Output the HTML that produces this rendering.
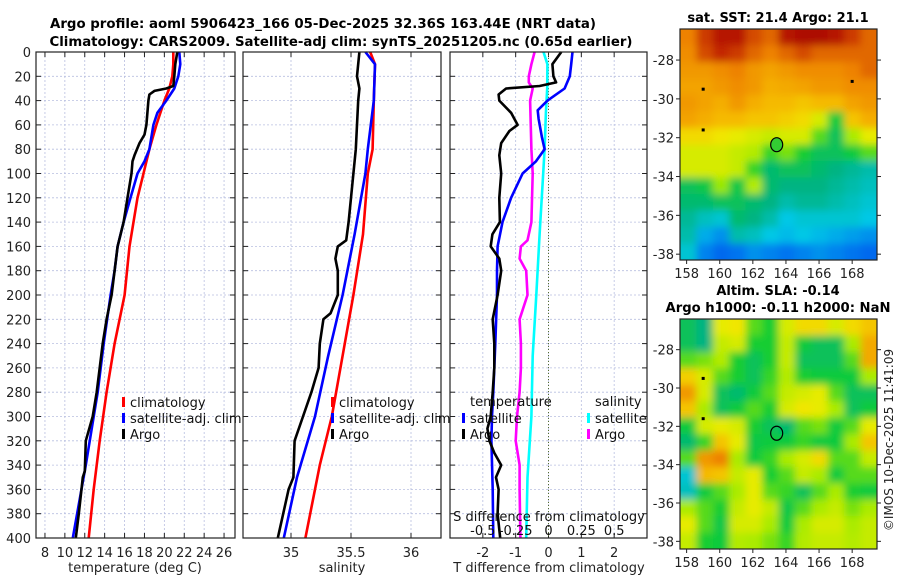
<!DOCTYPE html>
<html><head><meta charset="utf-8"><style>
html,body{margin:0;padding:0;background:#fff;}
svg{display:block;font-family:"DejaVu Sans","Liberation Sans",sans-serif;}
</style></head><body>
<svg id="fig" width="900" height="580" viewBox="0 0 900 580" xmlns="http://www.w3.org/2000/svg">
<defs>
<filter id="blur" x="-5%" y="-5%" width="110%" height="110%"><feGaussianBlur stdDeviation="4"/></filter>
<clipPath id="clipTop"><rect x="680" y="29" width="197" height="231"/></clipPath>
<clipPath id="clipBot"><rect x="680" y="319" width="197" height="230"/></clipPath>
</defs>
<text x="323" y="28" font-size="13" font-weight="bold" text-anchor="middle" textLength="546" lengthAdjust="spacingAndGlyphs">Argo profile: aoml 5906423_166 05-Dec-2025 32.36S 163.44E (NRT data)</text>
<text x="341" y="46" font-size="13" font-weight="bold" text-anchor="middle" textLength="583" lengthAdjust="spacingAndGlyphs">Climatology: CARS2009. Satellite-adj clim: synTS_20251205.nc (0.65d earlier)</text>
<g id="plots"></g>
<text x="778" y="22" font-size="13" font-weight="bold" text-anchor="middle">sat. SST: 21.4 Argo: 21.1</text>
<text x="778" y="295" font-size="13" font-weight="bold" text-anchor="middle">Altim. SLA: -0.14</text>
<text x="778" y="312" font-size="13" font-weight="bold" text-anchor="middle" textLength="225" lengthAdjust="spacingAndGlyphs">Argo h1000: -0.11 h2000: NaN</text>
<text transform="translate(893,440) rotate(-90)" font-size="12" text-anchor="middle" fill="#222">©IMOS 10-Dec-2025 11:41:09</text>
</svg>
<script>
// ---- profile data (depth in m) ----
const tClimDepth=[0,10,20,30,40,60,80,100,120,140,160,200,240,280,320,360,400];
const tClimVal=[20.9,20.9,20.8,20.5,20.0,19.2,18.5,17.9,17.3,16.9,16.5,16.0,15.0,14.2,13.5,12.9,12.4];
const tSatDepth=[0,10,20,30,40,50,60,80,90,100,120,140,160,180,200,240,280,300,340,400];
const tSatVal=[21.5,21.6,21.4,21.0,20.2,19.3,18.9,18.5,18.0,17.3,16.6,15.9,15.3,15.0,14.6,13.9,13.3,12.9,12.1,10.8];
const tArgoDepth=[0,10,20,28,30,32,35,40,60,68,75,85,90,100,120,140,160,180,200,220,240,260,280,300,320,345,350,380,400];
const tArgoVal=[21.3,21.1,21.0,20.9,20.2,19.0,18.5,18.4,18.2,18.0,17.5,17.0,16.8,16.7,16.3,15.9,15.3,15.0,14.7,14.2,13.8,13.5,13.2,12.8,12.1,12.0,11.8,11.4,11.1];
const sClimDepth=[0,10,40,80,100,150,200,250,300,340,400];
const sClimVal=[35.66,35.70,35.69,35.68,35.64,35.60,35.52,35.43,35.34,35.24,35.12];
const sSatDepth=[0,10,40,80,100,150,200,250,300,350,400];
const sSatVal=[35.62,35.70,35.69,35.64,35.62,35.53,35.43,35.31,35.20,35.05,34.94];
const sArgoDepth=[0,20,30,40,80,100,140,155,160,170,180,200,215,220,240,260,280,300,320,350,360,400];
const sArgoVal=[35.57,35.55,35.57,35.56,35.54,35.52,35.48,35.46,35.39,35.37,35.39,35.39,35.33,35.27,35.24,35.23,35.17,35.10,35.03,35.02,34.98,34.89];
const dTArgoDepth=[0,10,20,25,28,30,35,40,50,60,65,75,85,100,120,140,150,160,170,180,200,220,240,260,280,300,310,320,330,340,350,360,380,400];
const dTArgoVal=[0.39,0.12,0.15,0.23,-0.27,-1.29,-1.52,-1.5,-1.14,-0.94,-1.19,-1.44,-1.5,-1.44,-1.5,-1.48,-1.71,-1.76,-1.5,-1.44,-1.55,-1.7,-1.65,-1.65,-1.7,-1.76,-1.86,-1.8,-1.65,-1.44,-1.6,-1.52,-1.55,-1.47];
const dTSatDepth=[0,10,20,30,40,48,55,70,80,90,100,120,140,160,180,200,240,280,300,320,360,400];
const dTSatVal=[0.73,0.69,0.65,0.49,-0.03,-0.33,-0.3,-0.2,-0.12,-0.38,-0.79,-1.14,-1.4,-1.55,-1.57,-1.57,-1.62,-1.68,-1.72,-1.74,-1.70,-1.68];
const dSSatDepth=[0,10,30,50,80,100,150,200,250,300,350,400];
const dSSatVal=[-0.038,-0.008,-0.01,-0.02,-0.03,-0.04,-0.068,-0.093,-0.12,-0.13,-0.16,-0.17];
const dSArgoDepth=[0,10,20,25,30,40,80,100,140,155,160,170,180,200,220,240,260,280,300,320,340,360,400];
const dSArgoVal=[-0.106,-0.13,-0.15,-0.15,-0.12,-0.14,-0.13,-0.12,-0.13,-0.16,-0.21,-0.22,-0.17,-0.16,-0.22,-0.21,-0.21,-0.22,-0.24,-0.25,-0.22,-0.22,-0.214];
const depthTicks=[0,20,40,60,80,100,120,140,160,180,200,220,240,260,280,300,320,340,360,380,400];
const tTicks=[8,10,12,14,16,18,20,22,24,26];
const sTicks=[35,35.5,36];
const dTTicks=[-2,-1,0,1,2];
const dSTicks=[-0.5,-0.25,0,0.25,0.5];
// ---- map data (values 0..1 on jet-like colour scale), rows north->south ----
const sstGrid=[
[0.82,0.9,0.95,0.95,0.88,0.85,0.95,0.97,0.97,0.95,0.9,0.85],
[0.8,0.88,0.92,0.9,0.85,0.82,0.85,0.88,0.85,0.85,0.85,0.85],
[0.78,0.78,0.8,0.82,0.78,0.76,0.78,0.8,0.8,0.8,0.82,0.85],
[0.76,0.76,0.78,0.8,0.78,0.74,0.75,0.76,0.78,0.78,0.8,0.8],
[0.78,0.76,0.74,0.78,0.74,0.72,0.72,0.7,0.72,0.72,0.76,0.78],
[0.76,0.74,0.72,0.72,0.7,0.7,0.68,0.66,0.6,0.45,0.7,0.74],
[0.66,0.66,0.64,0.62,0.6,0.58,0.6,0.6,0.5,0.42,0.55,0.62],
[0.6,0.6,0.6,0.58,0.56,0.48,0.52,0.46,0.42,0.42,0.45,0.5],
[0.6,0.6,0.6,0.58,0.48,0.4,0.42,0.42,0.4,0.38,0.36,0.34],
[0.42,0.44,0.54,0.44,0.56,0.4,0.38,0.38,0.38,0.36,0.34,0.32],
[0.4,0.4,0.42,0.42,0.4,0.38,0.34,0.36,0.36,0.34,0.32,0.3],
[0.36,0.32,0.3,0.4,0.38,0.34,0.28,0.3,0.3,0.3,0.3,0.28],
[0.34,0.24,0.2,0.34,0.32,0.28,0.26,0.28,0.26,0.24,0.22,0.2],
[0.3,0.18,0.14,0.16,0.2,0.18,0.16,0.18,0.2,0.18,0.16,0.14]];
const slaGrid=[
[0.42,0.38,0.62,0.64,0.5,0.46,0.6,0.66,0.66,0.6,0.66,0.7],
[0.42,0.38,0.58,0.6,0.46,0.46,0.58,0.45,0.42,0.42,0.55,0.75],
[0.5,0.52,0.56,0.46,0.42,0.46,0.58,0.42,0.42,0.42,0.5,0.75],
[0.68,0.6,0.5,0.46,0.42,0.48,0.56,0.46,0.45,0.45,0.45,0.55],
[0.78,0.6,0.42,0.4,0.45,0.5,0.58,0.6,0.62,0.5,0.42,0.42],
[0.7,0.55,0.42,0.45,0.5,0.46,0.6,0.64,0.62,0.55,0.42,0.45],
[0.45,0.6,0.62,0.6,0.46,0.42,0.4,0.5,0.52,0.45,0.5,0.62],
[0.4,0.48,0.7,0.62,0.44,0.45,0.45,0.48,0.45,0.45,0.55,0.7],
[0.5,0.78,0.82,0.55,0.45,0.48,0.55,0.6,0.66,0.5,0.5,0.58],
[0.3,0.72,0.7,0.58,0.62,0.46,0.5,0.58,0.55,0.45,0.5,0.5],
[0.32,0.45,0.5,0.55,0.62,0.5,0.48,0.42,0.5,0.55,0.46,0.45],
[0.55,0.5,0.46,0.58,0.62,0.58,0.44,0.5,0.55,0.58,0.52,0.55],
[0.62,0.5,0.44,0.6,0.6,0.55,0.45,0.55,0.6,0.6,0.55,0.58],
[0.58,0.46,0.45,0.56,0.55,0.52,0.48,0.56,0.58,0.58,0.56,0.58]];
const lonTicks=[158,160,162,164,166,168];
const latTicks=[-28,-30,-32,-34,-36,-38];
const argoLon=163.44, argoLat=-32.36;

const NS='http://www.w3.org/2000/svg';
const root=document.getElementById('plots');
function el(tag,attrs,parent){const e=document.createElementNS(NS,tag);for(const k in attrs)e.setAttribute(k,attrs[k]);(parent||root).appendChild(e);return e;}
const Y0=52,Y1=538;
const yD=d=>Y0+(Y1-Y0)*d/400;
function panel(x0,x1,xmin,xmax,ticks,fmt,name){
  const sx=v=>x0+(x1-x0)*(v-xmin)/(xmax-xmin);
  const g=el('g',{});
  
  
  for(const d of depthTicks){const l=el('line',{x1:x0,x2:x1,y1:yD(d),y2:yD(d),stroke:'#b8bfe0','stroke-width':0.8,'stroke-dasharray':'2,2'},g);
    el('line',{x1:x0,x2:x0+5,y1:yD(d),y2:yD(d),stroke:'#222'},g);el('line',{x1:x1-5,x2:x1,y1:yD(d),y2:yD(d),stroke:'#222'},g);}
  for(const t of ticks){const l=el('line',{x1:sx(t),x2:sx(t),y1:Y0,y2:Y1,stroke:'#b8bfe0','stroke-width':0.8,'stroke-dasharray':'2,2'},g);
    el('line',{x1:sx(t),x2:sx(t),y1:Y1-5,y2:Y1,stroke:'#222'},g);el('line',{x1:sx(t),x2:sx(t),y1:Y0,y2:Y0+5,stroke:'#222'},g);
    const tx=el('text',{x:sx(t),y:Y1+19,'font-size':13,'text-anchor':'middle',fill:'#222'},g);tx.textContent=fmt(t);
    }
  return {sx,g};
}
function line(sx,depths,vals,color,name,g){
  const pts=depths.map((d,i)=>sx(vals[i]).toFixed(1)+','+yD(d).toFixed(1)).join(' ');
  const p=el('polyline',{points:pts,fill:'none',stroke:color,'stroke-width':2.6,'stroke-linejoin':'round'},g);
  
  
}
function frame(x0,x1,g){el('rect',{x:x0,y:Y0,width:x1-x0,height:Y1-Y0,fill:'none',stroke:'#222','stroke-width':1.2},g);}
function legendItem(x,y,color,label,g){
  el('rect',{x:x,y:y-10,width:3,height:10,fill:color},g);
  const t=el('text',{x:x+8,y:y,'font-size':13,fill:'#111'},g);t.textContent=label;
  
  
}
for(const d of depthTicks){const t=el('text',{x:31,y:yD(d)+5,'font-size':13,'text-anchor':'end',fill:'#222'});t.textContent=d;
  }
// panel 1 temperature
const p1=panel(36,235,7.1,27.1,tTicks,v=>v,'temperature-panel');
line(p1.sx,tClimDepth,tClimVal,'#ff0000','temp-climatology-line',p1.g);
line(p1.sx,tSatDepth,tSatVal,'#0000ff','temp-satellite-line',p1.g);
line(p1.sx,tArgoDepth,tArgoVal,'#000000','temp-argo-line',p1.g);
frame(36,235,p1.g);
legendItem(122,407,'#ff0000','climatology',p1.g);legendItem(122,423,'#0000ff','satellite-adj. clim',p1.g);legendItem(122,439,'#000','Argo',p1.g);
let t1=el('text',{x:135,y:572,'font-size':13,'text-anchor':'middle',fill:'#222'});t1.textContent='temperature (deg C)';
// panel 2 salinity
const p2=panel(243,441,34.6,36.25,sTicks,v=>v,'salinity-panel');
line(p2.sx,sClimDepth,sClimVal,'#ff0000','sal-climatology-line',p2.g);
line(p2.sx,sSatDepth,sSatVal,'#0000ff','sal-satellite-line',p2.g);
line(p2.sx,sArgoDepth,sArgoVal,'#000000','sal-argo-line',p2.g);
frame(243,441,p2.g);
legendItem(331,407,'#ff0000','climatology',p2.g);legendItem(331,423,'#0000ff','satellite-adj. clim',p2.g);legendItem(331,439,'#000','Argo',p2.g);
let t2=el('text',{x:342,y:572,'font-size':13,'text-anchor':'middle',fill:'#222'});t2.textContent='salinity';
// panel 3 differences
const p3=panel(450,647,-3,3,dTTicks,v=>v,'difference-panel');
const sxS=v=>450+197*(v+0.75)/1.5;
el('line',{x1:sxS(0),x2:sxS(0),y1:Y0,y2:Y1,stroke:'#556b2f','stroke-width':1,'stroke-dasharray':'1,2'},p3.g);
line(sxS,dSSatDepth,dSSatVal,'#00ffff','sdiff-satellite-line',p3.g);
line(sxS,dSArgoDepth,dSArgoVal,'#ff00ff','sdiff-argo-line',p3.g);
line(p3.sx,dTSatDepth,dTSatVal,'#0000ff','tdiff-satellite-line',p3.g);
line(p3.sx,dTArgoDepth,dTArgoVal,'#000000','tdiff-argo-line',p3.g);
frame(450,647,p3.g);
let lt=el('text',{x:470,y:406,'font-size':13,fill:'#111'},p3.g);lt.textContent='temperature';
let ls=el('text',{x:595,y:406,'font-size':13,fill:'#111'},p3.g);ls.textContent='salinity';
legendItem(462,423,'#0000ff','satellite',p3.g);legendItem(462,439,'#000','Argo',p3.g);
legendItem(587,423,'#00ffff','satellite',p3.g);legendItem(587,439,'#ff00ff','Argo',p3.g);
let sl=el('text',{x:549,y:521,'font-size':13,'text-anchor':'middle',fill:'#111'},p3.g);sl.textContent='S difference from climatology';
for(const s of dSTicks){const t=el('text',{x:sxS(s),y:535,'font-size':13,'text-anchor':'middle',fill:'#111'},p3.g);t.textContent=s;}
let t3=el('text',{x:549,y:572,'font-size':13,'text-anchor':'middle',fill:'#222'});t3.textContent='T difference from climatology';
// colour map
function jet(v){const stops=[[0,[0,40,210]],[0.15,[0,110,240]],[0.28,[0,200,230]],[0.38,[0,180,130]],[0.46,[20,205,50]],[0.55,[170,235,0]],[0.63,[240,235,0]],[0.73,[245,180,0]],[0.82,[238,130,0]],[0.92,[195,40,0]],[1,[160,0,0]]];
  for(let i=1;i<stops.length;i++){if(v<=stops[i][0]){const a=stops[i-1],b=stops[i],f=(v-a[0])/(b[0]-a[0]);return 'rgb('+a[1].map((c,k)=>Math.round(c+(b[1][k]-c)*f)).join(',')+')';}}return 'rgb(160,0,0)';}
function map(y0,y1,latTop,latBot,grid,name,filled,dots,clip){
  const x0=680,x1=877,lonL=157.6,lonR=169.5;
  const sx=v=>x0+(x1-x0)*(v-lonL)/(lonR-lonL), sy=v=>y0+(y1-y0)*(latTop-v)/(latTop-latBot);
  const g=el('g',{});
  const cg=el('g',{'clip-path':'url(#'+clip+')'},g);
  const bg=el('g',{filter:'url(#blur)'},cg);
  const rows=grid.length,cols=grid[0].length,cw=(x1-x0)/cols,ch=(y1-y0)/rows;
  grid.forEach((row,r)=>row.forEach((v,c)=>{
    const xx=x0+c*cw-(c===0?8:0), yy=y0+r*ch-(r===0?8:0);
    const ww=cw+0.6+(c===0?8:0)+(c===cols-1?8:0), hh=ch+0.6+(r===0?8:0)+(r===rows-1?8:0);
    const cell=el('rect',{x:xx,y:yy,width:ww,height:hh,fill:jet(v)},bg);}));
  for(const d of dots)el('rect',{x:sx(d[0])-1.5,y:sy(d[1])-1.5,width:3,height:3,fill:'#000'},g);
  const c=el('ellipse',{cx:sx(argoLon),cy:sy(argoLat),rx:6,ry:7,fill:filled?'#33cc33':'none',stroke:'#000','stroke-width':1.2},g);
  el('rect',{x:x0,y:y0,width:x1-x0,height:y1-y0,fill:'none',stroke:'#222','stroke-width':1.2},g);
  for(const lo of lonTicks){el('line',{x1:sx(lo),x2:sx(lo),y1:y1,y2:y1+4,stroke:'#222'},g);const t=el('text',{x:sx(lo),y:y1+18,'font-size':13,'text-anchor':'middle',fill:'#222'},g);t.textContent=lo;}
  for(const la of latTicks){el('line',{x1:x0-4,x2:x0,y1:sy(la),y2:sy(la),stroke:'#222'},g);el('line',{x1:x1,x2:x1+4,y1:sy(la),y2:sy(la),stroke:'#222'},g);const t=el('text',{x:x0-6,y:sy(la)+5,'font-size':13,'text-anchor':'end',fill:'#222'},g);t.textContent=la;}
}
map(29,260,-26.4,-38.3,sstGrid,'sst-map',true,[[159,-29.5],[168,-29.1],[159,-31.6]],'clipTop');
map(319,549,-26.4,-38.4,slaGrid,'sla-map',false,[[159,-29.5],[159,-31.6]],'clipBot');
</script>
</body></html>
